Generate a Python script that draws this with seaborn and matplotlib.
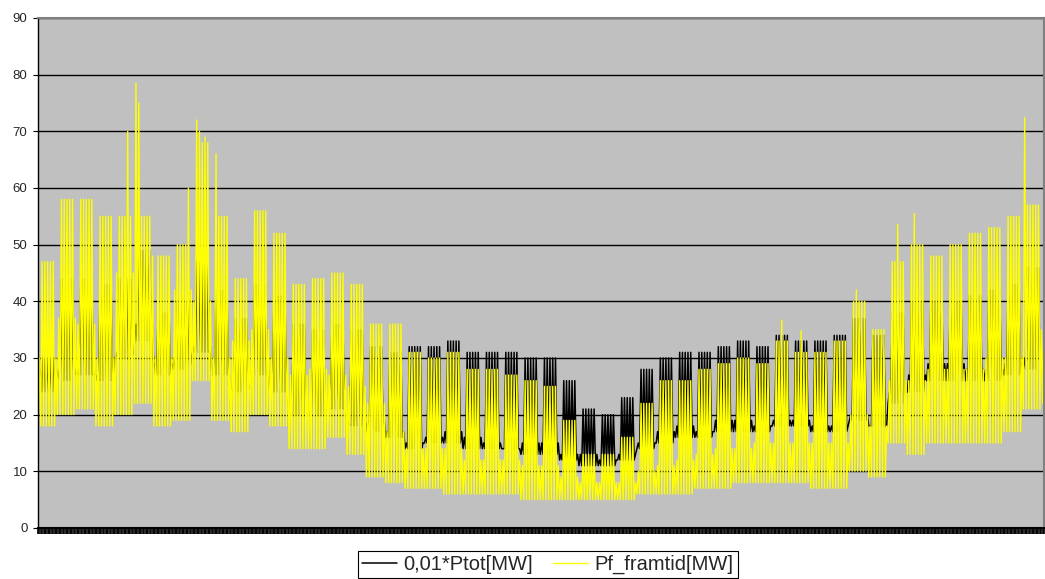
import numpy as np
import pandas as pd
import seaborn as sns
from matplotlib import pyplot as plt

# weekly values (week = Sun, Mon-Fri, Sat)
# yellow: Pf_framtid[MW]
y_hi = [47, 58, 58, 55, 55, 55, 48, 50, 68, 55, 44, 56, 52, 43, 44, 45, 43, 36,
        36, 31, 30, 31, 28, 28, 27, 26, 25, 19, 13, 13, 16, 22, 26, 26, 28, 29,
        30, 29, 33, 31, 31, 33, 40, 35, 47, 50, 48, 50, 52, 53, 55, 57, 48]
y_lo = [18, 20, 21, 18, 20, 22, 18, 19, 26, 19, 17, 20, 18, 14, 14, 16, 13, 9,
        8, 7, 7, 6, 6, 6, 6, 5, 5, 5, 5, 5, 5, 6, 6, 6, 7, 7,
        8, 8, 8, 8, 7, 7, 10, 9, 15, 13, 15, 15, 15, 15, 17, 21, 22]
y_we = [30, 37, 36, 30, 45, 48, 30, 42, 40, 30, 33, 35, 30, 27, 28, 27, 25, 22,
        17, 14, 14, 14, 12, 12, 12, 11, 11, 9, 8, 8, 8, 10, 11, 12, 13, 14,
        14, 15, 15, 15, 15, 15, 20, 18, 26, 26, 28, 28, 28, 30, 30, 35, 40]
# black: 0,01*Ptot[MW]
k_hi = [30, 44, 44, 43, 44, 49, 38, 40, 47, 42, 37, 43, 41, 36, 35, 36, 35, 32,
        31, 32, 32, 33, 31, 31, 31, 30, 30, 26, 21, 20, 23, 28, 30, 31, 31, 32,
        33, 32, 34, 33, 33, 34, 37, 34, 38, 40, 40, 40, 41, 42, 43, 46, 30]
k_lo = [24, 26, 27, 26, 30, 33, 27, 28, 31, 27, 24, 27, 24, 20, 20, 21, 18, 17,
        16, 14, 15, 15, 14, 14, 14, 13, 13, 12, 11, 11, 12, 14, 15, 16, 16, 17,
        17, 17, 18, 18, 17, 17, 19, 18, 22, 24, 26, 26, 26, 26, 27, 28, 27]
k_we = [28, 28, 28, 27, 31, 36, 29, 30, 32, 27, 25, 28, 24, 21, 22, 22, 19, 19,
        17, 15, 16, 17, 16, 15, 14, 15, 15, 13, 13, 12, 13, 15, 17, 18, 17, 19,
        19, 18, 19, 19, 18, 18, 20, 18, 24, 27, 29, 29, 28, 28, 29, 30, 29]

# single-day peaks of the yellow series (day of year -> value)
y_spikes = {32: 70, 35: 78.5, 36: 75, 54: 60, 57: 72, 58: 70, 60: 69, 64: 66,
            269: 36.7, 276: 34.8, 296: 42, 311: 53.6, 317: 55.5, 357: 72.4}

n_days = 365
labels = ["0,01*Ptot[MW]", "Pf_framtid[MW]"]

rows = []
for d in range(n_days):
    w = d // 7
    weekend = d % 7 in (0, 6)
    y_peak = y_we[w] if weekend else y_hi[w]
    y_peak = y_spikes.get(d, y_peak)
    k_peak = k_we[w] if weekend else k_hi[w]
    for j, (yv, kv) in enumerate([(y_lo[w], k_lo[w]), (y_peak, k_peak)]):
        rows.append({"t": 2 * d + j, "black": kv, "yellow": yv})
df = pd.DataFrame(rows)

sns.set_theme(style="white")
plt.rcParams["font.family"] = ["Liberation Sans", "DejaVu Sans"]

fig = plt.figure(figsize=(10.45, 5.79), dpi=100)
ax = fig.add_axes([38 / 1045, 1 - 528 / 579, 1006 / 1045, 510 / 579])
ax.set_facecolor("#c0c0c0")

sns.lineplot(data=df, x="t", y="black", color="black", linewidth=1.1,
             estimator=None, ax=ax, label=labels[0])
sns.lineplot(data=df, x="t", y="yellow", color="#ffff00", linewidth=0.75,
             estimator=None, ax=ax, label=labels[1])

ax.set_ylim(0, 90)
ax.set_xlim(0, len(df) - 1)
ax.set_yticks(range(0, 91, 10))
ax.yaxis.grid(True, color="black", linewidth=1.0)
ax.set_axisbelow(True)
ax.set_xlabel("")
ax.set_ylabel("")

# Excel-style category axis: ticks so dense they form a solid band
ax.set_xticks(np.arange(0, len(df), 1))
ax.set_xticklabels([])
ax.tick_params(axis="x", length=4.2, width=1.2, color="black", direction="out",
               bottom=True)
ax.tick_params(axis="y", length=3.6, width=0.8, color="black", labelsize=9.5,
               left=True, pad=4)

for side in ["top", "right"]:
    ax.spines[side].set_color("#808080")
    ax.spines[side].set_linewidth(1.5)
ax.spines["left"].set_color("black")
ax.spines["left"].set_linewidth(1.0)
ax.spines["bottom"].set_color("black")
ax.spines["bottom"].set_linewidth(1.5)

ax.get_legend().remove()
handles, _ = ax.get_legend_handles_labels()
handles[1].set_linewidth(1.0)
leg = fig.legend(handles, labels, loc="upper center", ncol=2,
                 bbox_to_anchor=(548 / 1045, 1 - 551 / 579), fontsize=14.5,
                 frameon=True, fancybox=False, edgecolor="black",
                 framealpha=1, borderaxespad=0, handlelength=1.7,
                 handletextpad=0.35, columnspacing=1.0, borderpad=0.2)
leg.get_frame().set_linewidth(0.8)

fig.savefig("out.png", dpi=100)
